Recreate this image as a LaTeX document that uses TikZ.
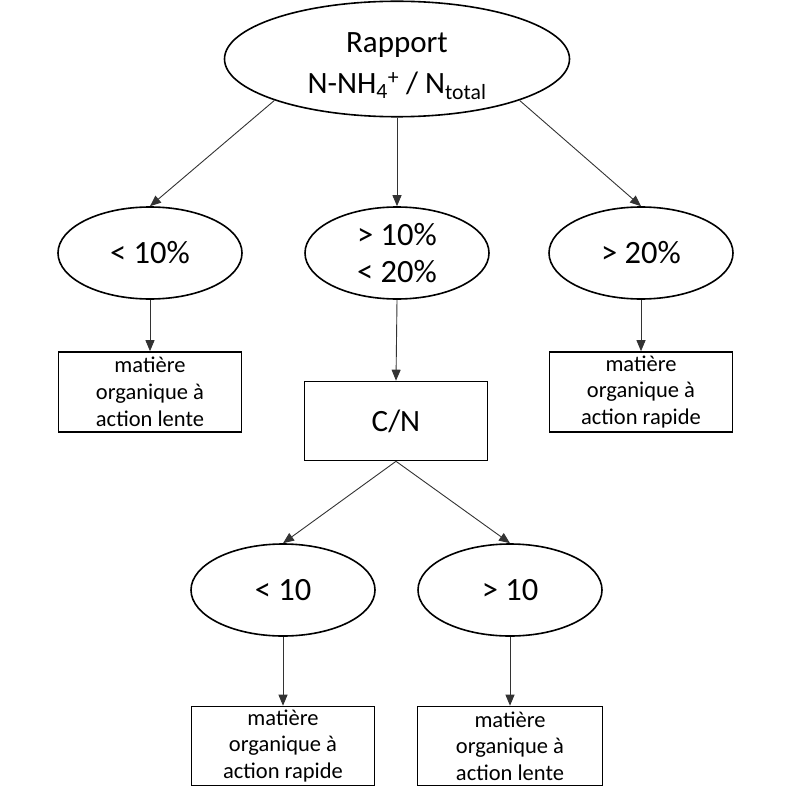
\documentclass[tikz,border=0pt]{standalone}
\usepackage{fontspec}
\setmainfont{Carlito}
\usetikzlibrary{arrows.meta,shapes.geometric}

\begin{document}
\begin{tikzpicture}[
    x=1pt, y=-1pt,
    crit/.style={draw, ellipse, line width=1.6pt, minimum width=184pt, minimum height=92pt, inner sep=0pt, align=center, font=\fontsize{32.5}{36.5}\selectfont},
    result/.style={draw, rectangle, line width=1.6pt, minimum width=183pt, minimum height=79pt, inner sep=0pt, align=center, font=\fontsize{22.5}{26.7}\selectfont},
    link/.style={-{Triangle[length=11pt,width=9pt]}, line width=0.9pt, black!80},
  ]
  \useasboundingbox (0,0) rectangle (794,794);

  % Ratio
  \node[crit, minimum width=345pt, minimum height=107pt, text height=75pt, font=\fontsize{31}{41}\selectfont] (ratio) at (397,59) {Rapport\\N-NH\textsubscript{4}\textsuperscript{+} / N\textsubscript{total}};

  % Criteria
  \node[crit] (low) at (150,253) {< 10\%};
  \node[crit] (mid) at (397,253) {> 10\%\\< 20\%};
  \node[crit] (high) at (641,253) {> 20\%};

  % Results
  \node[result, minimum height=80pt] (slow) at (150,392) {matière\\organique à\\action lente};
  \node[result, font=\fontsize{31}{37}\selectfont] (cn) at (396,421) {C/N};
  \node[result, minimum height=80pt] (fast) at (641,392) {matière\\organique à\\action rapide};

  % C/N criteria
  \node[crit] (cnlow) at (283,590) {< 10};
  \node[crit] (cnhigh) at (510,590) {> 10};
  \node[result] (fastb) at (283,746) {matière\\organique à\\action rapide};
  \node[result, minimum width=185pt] (slowb) at (510,746) {matière\\organique à\\action lente};

  % Edges
  \draw[link] (ratio.south west) -- (low.north);
  \draw[link] (ratio.south) -- (mid.north);
  \draw[link] (ratio.south east) -- (high.north);
  \foreach \a/\b in {low/slow, mid/cn, high/fast, cnlow/fastb, cnhigh/slowb} {
    \draw[link] (\a.south) -- (\b.north);
  }
  \draw[link] (cn.south) -- (cnlow.north);
  \draw[link] (cn.south) -- (cnhigh.north);
\end{tikzpicture}
\end{document}
